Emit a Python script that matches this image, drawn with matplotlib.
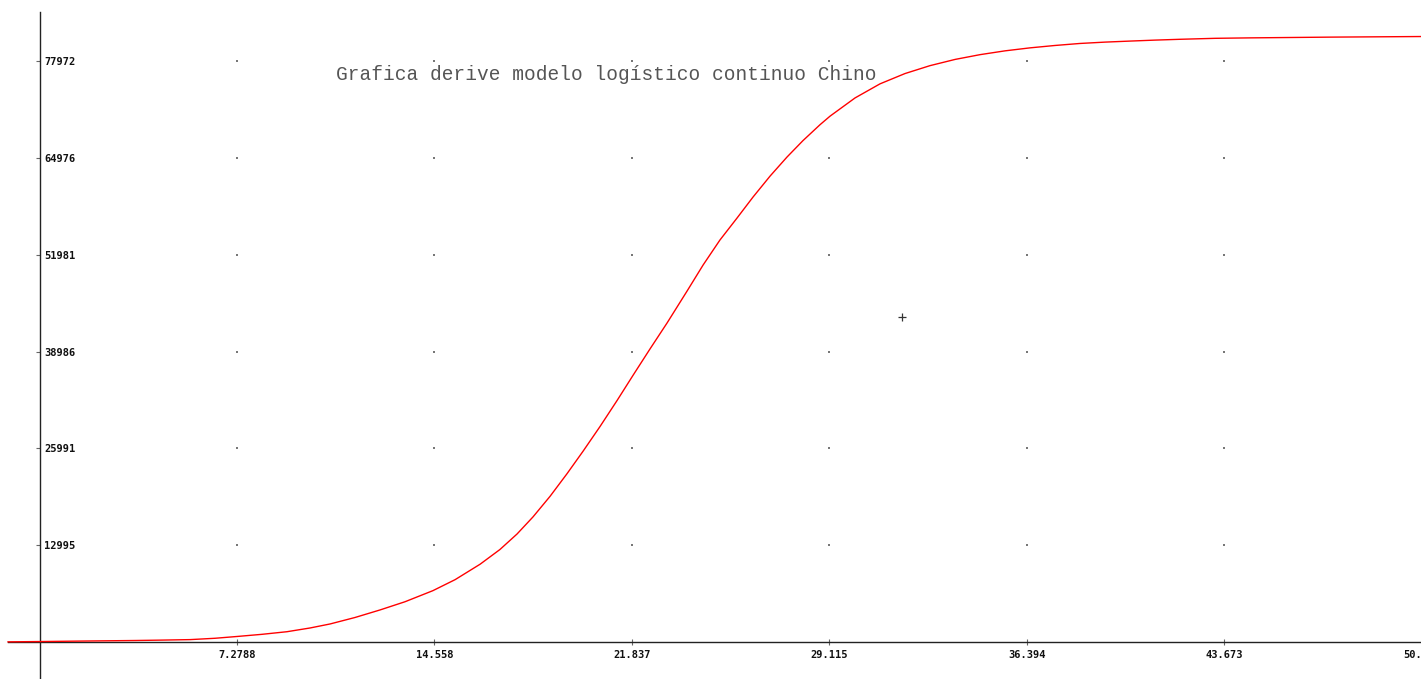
import matplotlib
matplotlib.use("Agg")
import matplotlib.pyplot as plt
import numpy as np

# curve points (day, cases)
dias = [-1.16, 0.02, 1.68, 3.52, 4.44, 5.55, 6.47, 7.28, 8.20, 9.12,
        9.97, 10.71, 11.63, 12.55, 13.47, 14.50, 15.32, 16.24, 16.97, 17.60,
        18.19, 18.82, 19.44, 20.03, 20.66, 21.29, 21.88, 22.50, 23.13, 23.50,
        23.87, 24.46, 25.08, 25.71, 26.30, 26.93, 27.55, 28.14, 28.77, 29.14,
        30.06, 30.98, 31.90, 32.82, 33.75, 34.67, 35.59, 36.51, 37.43, 38.35,
        39.27, 40.20, 41.12, 42.04, 43.33, 44.62, 46.09, 47.57, 49.23, 50.92]
casos = [20, 60, 130, 200, 250, 320, 500, 740, 1030, 1380,
         1880, 2420, 3290, 4300, 5400, 6890, 8370, 10440, 12410, 14490,
         16790, 19560, 22570, 25580, 28920, 32420, 35810, 39320, 42810, 44960,
         47110, 50600, 53950, 56900, 59720, 62540, 65080, 67290, 69430, 70580,
         73020, 74910, 76290, 77350, 78190, 78830, 79340, 79740, 80060, 80330,
         80510, 80650, 80780, 80890, 81020, 81080, 81130, 81180, 81220, 81260]

xticks = [7.2788, 14.558, 21.837, 29.115, 36.394, 43.673]
xlabels = ["7.2788", "14.558", "21.837", "29.115", "36.394", "43.673"]
yticks = [12995, 25991, 38986, 51981, 64976, 77972]
ylabels = ["12995", "25991", "38986", "51981", "64976", "77972"]
ultimo_x, ultimo_label = 50.952, "50.952"

cursor = (31.79, 43620)
titulo = "Grafica derive modelo logístico continuo Chino"

fig = plt.figure(figsize=(14.21, 6.79), dpi=100)
ax = fig.add_axes([0, 0, 1, 1])
ax.set_xlim(-1.456, 50.92)
ax.set_ylim(-4966, 86163)

for s in ["top", "right"]:
    ax.spines[s].set_visible(False)
ax.spines["left"].set_position(("data", 0))
ax.spines["bottom"].set_position(("data", 0))
ax.spines["left"].set_bounds(-4966, 84550)
ax.spines["bottom"].set_bounds(-1.16, 50.92)
for s in ["left", "bottom"]:
    ax.spines[s].set_color("#222222")
    ax.spines[s].set_linewidth(1.0)

ax.set_xticks(xticks)
ax.set_xticklabels(xlabels)
ax.set_yticks(yticks)
ax.set_yticklabels(ylabels)
ax.tick_params(axis="x", direction="inout", length=5, width=0.8, color="#666666",
               pad=3, labelsize=7.5, labelcolor="#111111")
ax.tick_params(axis="y", direction="out", length=3, width=0.8, color="#666666",
               pad=-6.5, labelsize=7.5, labelcolor="#111111")
for lab in ax.get_yticklabels():
    lab.set_ha("left")
    lab.set_fontfamily("DejaVu Sans Mono")
    lab.set_fontweight("bold")
for lab in ax.get_xticklabels():
    lab.set_fontfamily("DejaVu Sans Mono")
    lab.set_fontweight("bold")

# last x label, cut by the right edge as in the original
ax.annotate(ultimo_label, xy=(ultimo_x, 0), xytext=(0, -5.5),
            textcoords="offset points", ha="center", va="top",
            fontsize=7.5, fontfamily="DejaVu Sans Mono", fontweight="bold",
            color="#111111", annotation_clip=False)

# grid dots
gx, gy = np.meshgrid(xticks, yticks)
ax.scatter(gx.ravel(), gy.ravel(), s=1.2, marker="s", color="#777777",
           linewidths=0, zorder=2)

ax.plot(dias, casos, color="red", linewidth=1.0, zorder=5, solid_joinstyle="round")
ax.plot(cursor[0], cursor[1], marker="+", markersize=6, color="#333333",
        markeredgewidth=0.9, zorder=6)

fig.text(336 / 1421, 1 - 75 / 679, titulo, fontfamily="Liberation Mono",
         fontsize=14.05, color="#555555", ha="left", va="center")

fig.savefig("out.png", dpi=100)
